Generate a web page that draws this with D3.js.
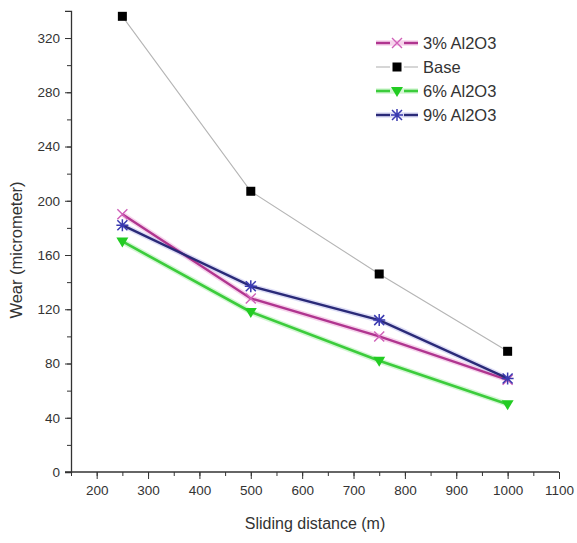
<!DOCTYPE html>
<html><head><meta charset="utf-8">
<script src="https://cdn.jsdelivr.net/npm/d3@7"></script>
<style>body{margin:0;background:#fff;} text{font-family:"Liberation Sans",Arial,sans-serif;fill:#333;}</style>
</head><body>
<svg id="c" width="577" height="543"></svg>
<script>
const distances = [250, 500, 750, 1000];
const wear3 = [190, 128, 100, 68];
const wearBase = [336, 207, 146, 89];
const wear6 = [170, 118, 82, 50];
const wear9 = [182, 137, 112, 69];
const seriesNames = ["3% Al2O3", "Base", "6% Al2O3", "9% Al2O3"];
const xTicks = [200, 300, 400, 500, 600, 700, 800, 900, 1000, 1100];
const yTicks = [0, 40, 80, 120, 160, 200, 240, 280, 320];

const series = [
  {name: seriesNames[0], values: wear3, line: "#b0358f", lw: 2.4, halo: "#f0b8e0", marker: "x", mcolor: "#d060b8"},
  {name: seriesNames[1], values: wearBase, line: "#b5b5b5", lw: 1.1, halo: null, marker: "square", mcolor: "#000"},
  {name: seriesNames[2], values: wear6, line: "#3ccc3c", lw: 2.6, halo: "#b8f0b8", marker: "tri", mcolor: "#22cc22"},
  {name: seriesNames[3], values: wear9, line: "#2a2a78", lw: 2.4, halo: "#c8c8f0", marker: "star", mcolor: "#3a3ab0"}
];

const svg = d3.select("#c");
const x = d3.scaleLinear().domain([150, 1100]).range([71, 559]);
const y = d3.scaleLinear().domain([0, 340]).range([472, 10.9]);
const fmt = d3.format("d");

// axes
const yMinor = d3.range(0, 340, 20);
svg.append("g").attr("transform", "translate(71,0)")
  .call(d3.axisLeft(y).tickValues(yMinor).tickSize(4).tickFormat(""))
  .call(g => g.select(".domain").remove())
  .selectAll("line").attr("stroke", "#333");
const yAxis = svg.append("g").attr("transform", "translate(71,0)")
  .call(d3.axisLeft(y).tickValues(yTicks).tickFormat(fmt).tickSizeOuter(0).tickSize(6).tickPadding(5));
yAxis.select(".domain").attr("stroke", "#333").attr("stroke-width", 1.3);
yAxis.selectAll("line").attr("stroke", "#333");
yAxis.selectAll("text").style("font-size", "13.5px").attr("fill", "#333");

const xMinor = d3.range(150, 1101, 50);
svg.append("g").attr("transform", "translate(0,472)")
  .call(d3.axisBottom(x).tickValues(xMinor).tickSize(4).tickFormat(""))
  .call(g => g.select(".domain").remove())
  .selectAll("line").attr("stroke", "#333");
const xAxis = svg.append("g").attr("transform", "translate(0,472)")
  .call(d3.axisBottom(x).tickValues(xTicks).tickFormat(fmt).tickSizeOuter(0).tickSize(7).tickPadding(6));
xAxis.select(".domain").attr("stroke", "#333").attr("stroke-width", 1.3).attr("d", "M65,0H559");
xAxis.selectAll("line").attr("stroke", "#333");
xAxis.selectAll("text").style("font-size", "13.5px").attr("fill", "#333");

svg.append("text").attr("x", 315).attr("y", 529).attr("text-anchor", "middle")
  .style("font-size", "16px").text("Sliding distance (m)");
svg.append("text").attr("transform", "translate(22,250) rotate(-90)").attr("text-anchor", "middle")
  .style("font-size", "16.5px").text("Wear (micrometer)");

function drawMarker(g, type, color, cx, cy) {
  if (type === "square") {
    g.append("rect").attr("x", cx - 4.5).attr("y", cy - 4.5).attr("width", 9).attr("height", 9).attr("fill", color);
  } else if (type === "tri") {
    g.append("path").attr("d", `M${cx-6},${cy-4}L${cx+6},${cy-4}L${cx},${cy+6}Z`).attr("fill", color);
  } else if (type === "x") {
    g.append("path").attr("d", `M${cx-5},${cy-5}L${cx+5},${cy+5}M${cx-5},${cy+5}L${cx+5},${cy-5}`)
      .attr("stroke", color).attr("stroke-width", 1.4).attr("fill", "none");
  } else if (type === "star") {
    g.append("path").attr("d", `M${cx-5},${cy-5}L${cx+5},${cy+5}M${cx-5},${cy+5}L${cx+5},${cy-5}M${cx},${cy-6}L${cx},${cy+6}M${cx-6},${cy}L${cx+6},${cy}`)
      .attr("stroke", color).attr("stroke-width", 1.5).attr("fill", "none");
  }
}

const line = d3.line().x((d, i) => x(distances[i])).y(d => y(d));
series.forEach(s => {
  if (s.halo) svg.append("path").attr("d", line(s.values)).attr("fill", "none")
    .attr("stroke", s.halo).attr("stroke-width", s.lw + 3).attr("stroke-opacity", 0.6);
});
[1, 2, 0, 3].forEach(k => {
  const s = series[k];
  svg.append("path").attr("d", line(s.values)).attr("fill", "none")
    .attr("stroke", s.line).attr("stroke-width", s.lw);
  const g = svg.append("g");
  s.values.forEach((v, i) => drawMarker(g, s.marker, s.mcolor, x(distances[i]), y(v)));
});

// legend
const legY = [43, 67, 91, 115];
series.forEach((s, i) => {
  const g = svg.append("g");
  const yy = legY[i];
  if (s.halo) g.append("line").attr("x1", 376).attr("x2", 418).attr("y1", yy).attr("y2", yy)
    .attr("stroke", s.halo).attr("stroke-width", s.lw + 3).attr("stroke-opacity", 0.6);
  g.append("line").attr("x1", 376).attr("x2", 390).attr("y1", yy).attr("y2", yy).attr("stroke", s.line).attr("stroke-width", s.lw);
  g.append("line").attr("x1", 404).attr("x2", 418).attr("y1", yy).attr("y2", yy).attr("stroke", s.line).attr("stroke-width", s.lw);
  drawMarker(g, s.marker, s.mcolor, 397, yy);
  g.append("text").attr("x", 423).attr("y", yy + 5.5).style("font-size", "16.5px").text(s.name);
});
</script>
</body></html>
